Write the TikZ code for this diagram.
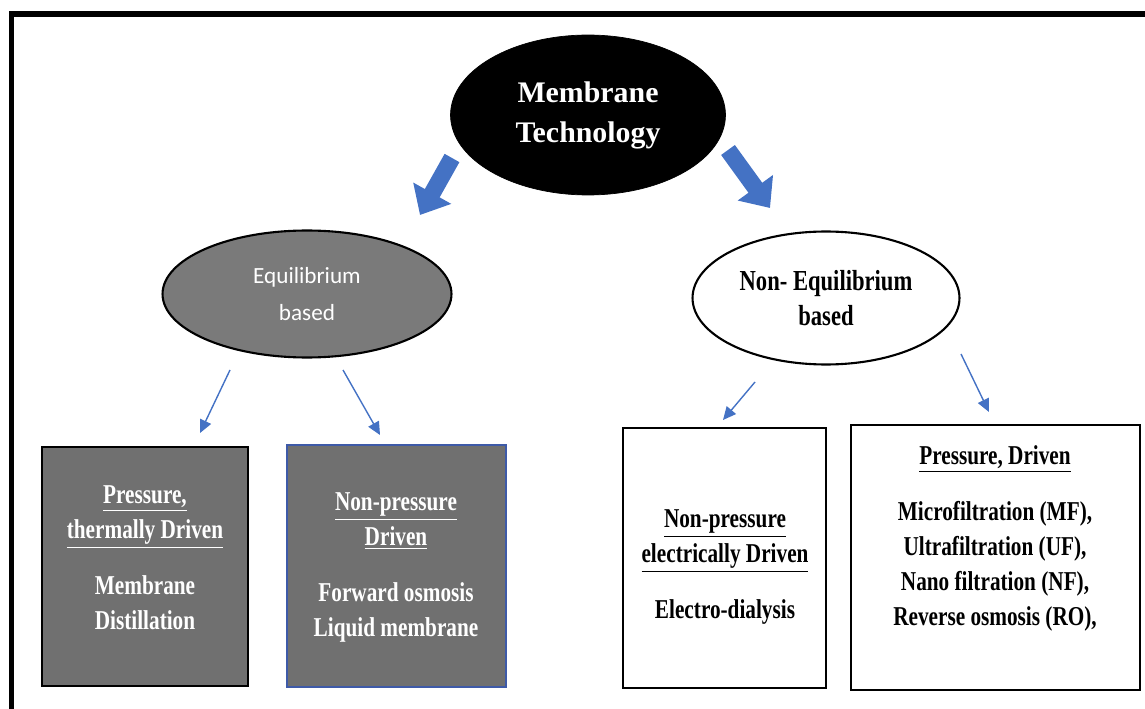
\documentclass[tikz,border=0pt]{standalone}
\usepackage{fontspec}
\setmainfont{Liberation Serif}
\newfontfamily\narrowfont[FakeStretch=0.78]{Liberation Serif}
\newfontfamily\calfont{Carlito}
\usetikzlibrary{shapes.geometric,arrows.meta}

\definecolor{arrowblue}{RGB}{68,114,196}
\definecolor{edgeblue}{RGB}{62,90,168}
\definecolor{ovalgray}{RGB}{122,122,122}
\definecolor{boxgray}{RGB}{112,112,112}

\tikzstyle{root} = [ellipse, draw, fill=black, text=white, align=center, inner sep=0pt, minimum width=5.5cm, minimum height=3.2cm, font=\fontsize{17}{22.7}\selectfont\bfseries]
\tikzstyle{family} = [ellipse, draw, line width=1.2pt, align=center, inner sep=0pt]
\tikzstyle{block} = [rectangle, draw, line width=1.4pt]
\tikzstyle{blocktext} = [align=center, anchor=north, inner sep=0pt, font=\narrowfont\fontsize{15.5}{19.9}\selectfont\bfseries]
\tikzstyle{bigarrow} = [-{Triangle[width=0.84cm,length=0.5cm]}, line width=0.34cm, arrowblue]
\tikzstyle{thinarrow} = [-{Triangle[width=0.24cm,length=0.26cm]}, line width=0.8pt, arrowblue]

\begin{document}
\begin{tikzpicture}[x=0.02cm,y=-0.02cm]
            %
            \useasboundingbox (0,0) rectangle (1145,709);
            % The frame runs off the right and bottom edges
            \draw [line width=0.12cm] (1200,14) -- (11.5,14) -- (11.5,760);
            %
            % We start by placing the ovals
            \node [root] (tech) at (588,115) {Membrane\\Technology};
            \node [family, fill=ovalgray, text=white, minimum width=5.78cm, minimum height=2.54cm, font=\calfont\fontsize{13.2}{21.5}\selectfont] (equi) at (307,294) {Equilibrium\\based};
            \node [family, fill=white, minimum width=5.34cm, minimum height=2.66cm, font=\narrowfont\fontsize{16.5}{19.5}\selectfont\bfseries] (nonequi) at (826,298) {Non- Equilibrium\\based};
            %
            % Then the four blocks at the bottom
            \node [block, fill=boxgray, minimum width=4.12cm, minimum height=4.78cm] (thermal) at (145,566.5) {};
            \node [block, draw=edgeblue, fill=boxgray, minimum width=4.38cm, minimum height=4.84cm] (nonpress) at (396.5,566) {};
            \node [block, fill=white, minimum width=4.06cm, minimum height=5.2cm] (electric) at (724.5,558) {};
            \node [block, fill=white, minimum width=5.78cm, minimum height=5.3cm] (pressure) at (995.5,557.5) {};
            %
            % Texts of the blocks
            \node [blocktext, text=white] (thermaltext) at (145,485.5) {\underline{Pressure,}\\\underline{thermally Driven}\\[12pt]Membrane\\Distillation};
            \node [blocktext, text=white] (nonpresstext) at (396,492.5) {\underline{Non-pressure}\\\underline{Driven}\\[12pt]Forward osmosis\\Liquid membrane};
            \node [blocktext] (electrictext) at (725,509.5) {\underline{Non-pressure}\\\underline{electrically Driven}\\[12pt]Electro-dialysis};
            \node [blocktext] (pressuretext) at (995,445.5) {\underline{Pressure, Driven}\\[12pt]Microfiltration (MF),\\Ultrafiltration (UF),\\Nano filtration (NF),\\Reverse osmosis (RO),};
            %
            % Arrow ends
            \coordinate (techleft) at (452,158);
            \coordinate (equitop) at (420,215);
            \coordinate (techright) at (728,150);
            \coordinate (nonequitop) at (770,208);
            \coordinate (equileft) at (230,370);
            \coordinate (thermaltop) at (200,433);
            \coordinate (equiright) at (343,370);
            \coordinate (nonpresstop) at (380,435);
            \coordinate (nonequileft) at (755,382);
            \coordinate (electrictop) at (723,420);
            \coordinate (nonequiright) at (961,354);
            \coordinate (pressuretop) at (989,412);
            %
            % Once the nodes are placed, connecting them is easy.
            \draw [bigarrow] (techleft) -- (equitop);
            \draw [bigarrow] (techright) -- (nonequitop);
            \draw [thinarrow] (equileft) -- (thermaltop);
            \draw [thinarrow] (equiright) -- (nonpresstop);
            \draw [thinarrow] (nonequileft) -- (electrictop);
            \draw [thinarrow] (nonequiright) -- (pressuretop);
            %
        \end{tikzpicture}
\end{document}
